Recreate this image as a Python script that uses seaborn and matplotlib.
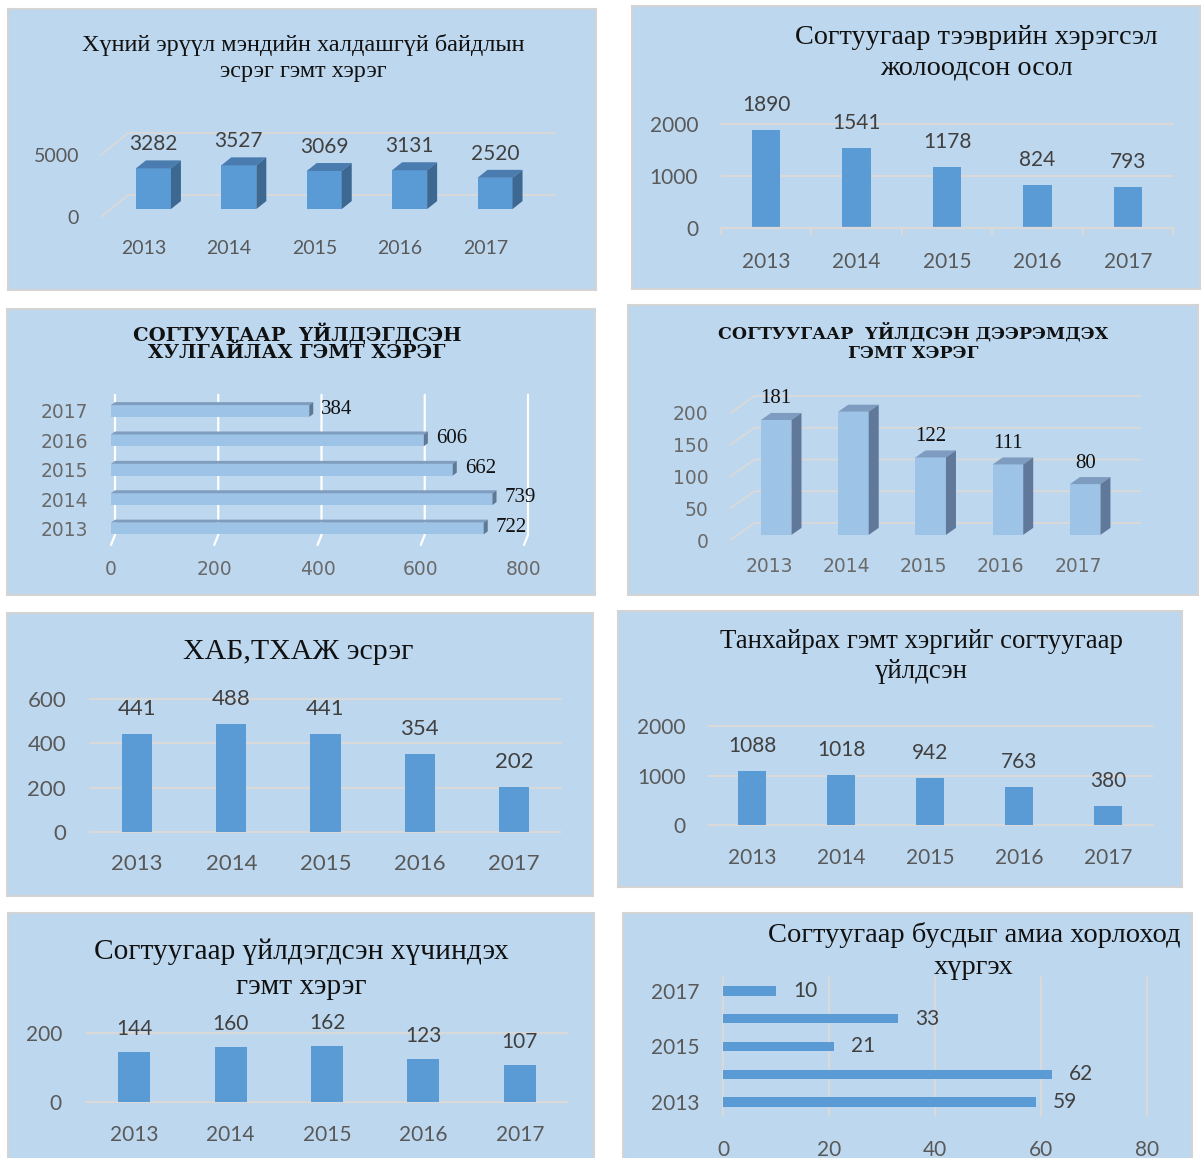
import numpy as np
import matplotlib
matplotlib.use("Agg")
import matplotlib.pyplot as plt
from matplotlib.patches import Polygon
import seaborn as sns

# canvas in pixels
W, H = 1201, 1158

YEARS = ["2013", "2014", "2015", "2016", "2017"]

# values per chart, in YEARS order
health_vals = [3282, 3527, 3069, 3131, 2520]
traffic_vals = [1890, 1541, 1178, 824, 793]
theft_vals = [722, 739, 662, 606, 384]
robbery_vals = [181, 194, 122, 111, 80]
hab_vals = [441, 488, 441, 354, 202]
hooligan_vals = [1088, 1018, 942, 763, 380]
rape_vals = [144, 160, 162, 123, 107]
suicide_vals = [59, 62, 21, 33, 10]

health_ticks = [0, 5000]
traffic_ticks = [0, 1000, 2000]
theft_ticks = [0, 200, 400, 600, 800]
robbery_ticks = [0, 50, 100, 150, 200]
hab_ticks = [0, 200, 400, 600]
hooligan_ticks = [0, 1000, 2000]
rape_ticks = [0, 200]
suicide_ticks = [0, 20, 40, 60, 80]
suicide_ylabels = ["2017", "", "2015", "", "2013"]

health_title = ["Хүний эрүүл мэндийн халдашгүй байдлын", "эсрэг гэмт хэрэг"]
traffic_title = ["Согтуугаар тээврийн хэрэгсэл", "жолоодсон осол"]
theft_title = ["СОГТУУГААР  ҮЙЛДЭГДСЭН", "ХУЛГАЙЛАХ ГЭМТ ХЭРЭГ"]
robbery_title = ["СОГТУУГААР  ҮЙЛДСЭН ДЭЭРЭМДЭХ", "ГЭМТ ХЭРЭГ"]
hab_title = ["ХАБ,ТХАЖ эсрэг"]
hooligan_title = ["Танхайрах гэмт хэргийг согтуугаар", "үйлдсэн"]
rape_title = ["Согтуугаар үйлдэгдсэн хүчиндэх", "гэмт хэрэг"]
suicide_title = ["Согтуугаар бусдыг амиа хорлоход", "хүргэх"]

PANEL = "#BDD7EE"
EDGE = "#D4D4D4"
GRID = "#D9D9D9"
BLUE = "#5B9BD5"
LIGHT = "#9DC3E6"
TICK_C = "#595959"
LAB_C = "#404040"
SERIF = ["Liberation Serif", "DejaVu Serif"]
WIDE_SERIF = ["DejaVu Serif"]
SANS = ["Lato", "DejaVu Sans"]
WIDE = ["DejaVu Sans"]

sns.set_theme(style="white")
plt.rcParams["font.family"] = SANS

fig = plt.figure(figsize=(W / 100, H / 100), dpi=100)
fig.patch.set_facecolor("white")


def px(v):
    # pixels -> points
    return v * 72 / 100


def rect(l, t, r, b):
    return [l / W, 1 - b / H, (r - l) / W, (b - t) / H]


def card(l, t, r, b):
    bg = fig.add_axes(rect(l, t, r, b))
    bg.set_facecolor(PANEL)
    bg.set_xticks([])
    bg.set_yticks([])
    for s in bg.spines.values():
        s.set_color(EDGE)
        s.set_linewidth(1.5)
    bg.set_zorder(0)


def inner(l, t, r, b):
    ax = fig.add_axes(rect(l, t, r, b))
    ax.patch.set_visible(False)
    for s in ax.spines.values():
        s.set_visible(False)
    ax.set_zorder(1)
    return ax


def title(x, ys, lines, size, bold=False, family=SERIF):
    for y, line in zip(ys, lines):
        fig.text(x / W, 1 - y / H, line, ha="center", va="center", fontsize=size,
                 family=family, weight="bold" if bold else "normal", color="#111111")


def style_ticks(ax, family, size, ypad, xpad, color=TICK_C):
    # pads are given in pixels
    ax.set_xlabel("")
    ax.set_ylabel("")
    ax.tick_params(axis="both", which="major", length=0, labelcolor=color)
    ax.tick_params(axis="y", pad=px(ypad))
    ax.tick_params(axis="x", pad=px(xpad))
    for t in ax.get_xticklabels() + ax.get_yticklabels():
        t.set_fontfamily(family)
        t.set_fontsize(size)


def columns(ax, vals, ticks, width, size, ypad, xpad, lab_off, lab_size):
    sns.barplot(x=YEARS, y=vals, color=BLUE, saturation=1, width=width,
                errorbar=None, linewidth=0, edgecolor="none", ax=ax)
    ax.set_xlim(-0.5, 4.5)
    ax.set_ylim(ticks[0], ticks[-1])
    ax.set_yticks(ticks)
    ax.yaxis.grid(True, color=GRID, lw=1.6)
    ax.xaxis.grid(False)
    ax.set_axisbelow(True)
    for gl in ax.get_ygridlines():
        gl.set_clip_on(False)
    for p in ax.patches:
        ax.annotate(f"{int(round(p.get_height()))}",
                    (p.get_x() + p.get_width() / 2, p.get_height()),
                    xytext=(0, px(lab_off)), textcoords="offset points",
                    ha="center", va="center", fontsize=lab_size, color=LAB_C,
                    family=SANS)
    style_ticks(ax, SANS, size, ypad, xpad)


def columns3d(ax, vals, ticks, width, Dx, Dy, z0, bdx, bdy, cols, size, ypad,
              xpad, lab_off, lab_size, lab_family, lab_color, tick_family):
    front, top_c, side_c = cols
    sns.barplot(x=YEARS, y=vals, color=front, saturation=1, width=width,
                errorbar=None, linewidth=0, edgecolor="none", ax=ax)
    ax.set_xlim(-0.5, 4.5)
    ax.set_ylim(ticks[0], ticks[-1])
    ax.set_yticks(ticks)
    ax.grid(False)
    # back-wall gridlines with the slanted side wall
    for t in ticks:
        ax.plot([-0.5, -0.5 + Dx, 4.5 + Dx], [t, t + Dy, t + Dy], color=GRID,
                lw=1.4, clip_on=False, zorder=0.5)
    for p in ax.patches:
        p.set_x(p.get_x() + z0 * Dx)
        p.set_y(z0 * Dy)
        p.set_zorder(2)
        p.set_clip_on(False)
        x0, y0 = p.get_x(), p.get_y()
        x1, y1 = x0 + p.get_width(), y0 + p.get_height()
        ax.add_patch(Polygon([(x0, y1), (x0 + bdx, y1 + bdy), (x1 + bdx, y1 + bdy), (x1, y1)],
                             closed=True, facecolor=top_c, edgecolor="none",
                             zorder=2, clip_on=False))
        ax.add_patch(Polygon([(x1, y0), (x1 + bdx, y0 + bdy), (x1 + bdx, y1 + bdy), (x1, y1)],
                             closed=True, facecolor=side_c, edgecolor="none",
                             zorder=2, clip_on=False))
        ax.annotate(f"{int(round(p.get_height()))}", ((x0 + x1) / 2, y1),
                    xytext=(0, px(lab_off)), textcoords="offset points",
                    ha="center", va="center", fontsize=lab_size, color=lab_color,
                    family=lab_family)
    style_ticks(ax, tick_family, size, ypad, xpad)


# ---------------- panel 1: 3D columns ----------------
card(8, 9, 596, 290)
ax1 = inner(101, 155, 528, 217)
px_y1 = 5000 / 62
columns3d(ax1, health_vals, health_ticks, 0.41, 27 / 85.4, 22 * px_y1, 0.36,
          10 / 85.4, 8 * px_y1, (BLUE, "#4A7CB0", "#3C6891"), 14, 22, 22.5,
          24, 15, SANS, LAB_C, SANS)
title(303, [45, 72], health_title, 17.5)

# ---------------- panel 2: columns with axis line ----------------
card(632, 6, 1200, 289)
ax2 = inner(720.75, 124, 1173.25, 228)
columns(ax2, traffic_vals, traffic_ticks, 0.31, 15, 22.7, 23.5, 25, 15)
ax2.spines["bottom"].set_visible(True)
ax2.spines["bottom"].set_color(GRID)
ax2.spines["bottom"].set_linewidth(1.6)
ax2.set_xticks(np.arange(-0.5, 5, 1), minor=True)
ax2.tick_params(axis="x", which="minor", length=5, width=1.6, color=GRID,
                direction="out", bottom=True)
title(976, [37, 68], traffic_title, 20.3)

# ---------------- panel 3: bevelled horizontal bars ----------------
card(7, 309, 595, 595)
ax3 = inner(111, 396.3, 524, 543.2)
sns.barplot(x=theft_vals, y=YEARS, order=YEARS[::-1], orient="h", color=LIGHT,
            saturation=1, width=0.40, errorbar=None, linewidth=0,
            edgecolor="none", ax=ax3)
ax3.set_xlim(theft_ticks[0], theft_ticks[-1])
ax3.set_ylim(4.5, -0.5)
ax3.set_xticks(theft_ticks)
ax3.grid(False)
cap_dx = 4 / 0.516
strip = 3.0 / 29.4
for t in theft_ticks:
    ax3.plot([t + cap_dx, t + cap_dx, t], [-0.55, 4.22, 4.56], color="white",
             lw=1.6, clip_on=False, zorder=0.5)
for p in ax3.patches:
    x0, x1 = p.get_x(), p.get_x() + p.get_width()
    yt, yb = p.get_y(), p.get_y() + p.get_height()
    p.set_zorder(2)
    ax3.add_patch(Polygon([(x0, yt), (x0 + cap_dx, yt - strip), (x1 + cap_dx, yt - strip), (x1, yt)],
                          closed=True, facecolor="#7F9DBF", edgecolor="none", zorder=2))
    ax3.add_patch(Polygon([(x1, yt), (x1 + cap_dx, yt - strip), (x1 + cap_dx, yb - strip), (x1, yb)],
                          closed=True, facecolor="#5F7896", edgecolor="none", zorder=2))
    ax3.annotate(f"{int(round(p.get_width()))}", (x1 + cap_dx, (yt + yb) / 2 - strip / 2),
                 xytext=(px(8), 0), textcoords="offset points", ha="left",
                 va="center", fontsize=15, color="#111111", family=SERIF)
style_ticks(ax3, WIDE, 13.5, 23, 16.5, color="#6A6A6A")
title(297, [334, 353], theft_title, 14, bold=True, family=WIDE_SERIF)

# ---------------- panel 4: 3D columns, light ----------------
card(628, 305, 1198, 595)
ax4 = inner(730.4, 413, 1116.6, 540)
px_y4 = 200 / 127
columns3d(ax4, robbery_vals, robbery_ticks, 0.395, 24 / 77.2, 17 * px_y4, 0.3,
          10 / 77.2, 7 * px_y4, (LIGHT, "#7E9CC0", "#60799A"), 13.5, 22, 17.5,
          21, 15, SERIF, "#111111", WIDE)
for t in ax4.get_xticklabels() + ax4.get_yticklabels():
    t.set_color("#6A6A6A")
title(913, [333, 354], robbery_title, 12.5, bold=True, family=WIDE_SERIF)

# ---------------- panel 5 ----------------
card(7, 613, 593, 896)
ax5 = inner(90, 699, 561, 832)
columns(ax5, hab_vals, hab_ticks, 0.32, 16, 24, 22.5, 25, 16)
title(298, [652], hab_title, 21.5)

# ---------------- panel 6 ----------------
card(618, 611, 1182, 887)
ax6 = inner(707.5, 726, 1152.5, 825)
columns(ax6, hooligan_vals, hooligan_ticks, 0.31, 15, 22, 23.5, 25, 15)
title(921, [642, 672], hooligan_title, 19.4)

# ---------------- panel 7 ----------------
card(8, 913, 594, 1175)
ax7 = inner(86, 1032.7, 568, 1102.3)
columns(ax7, rape_vals, rape_ticks, 0.33, 15, 24, 23, 23, 15)
title(301, [952, 987], rape_title, 21.2)

# ---------------- panel 8: flat horizontal bars ----------------
card(623, 913, 1192, 1175)
ax8 = inner(723, 977, 1147, 1116)
sns.barplot(x=suicide_vals, y=YEARS, order=YEARS[::-1], orient="h", color=BLUE,
            saturation=1, width=0.34, errorbar=None, linewidth=0,
            edgecolor="none", ax=ax8)
ax8.set_xlim(suicide_ticks[0], suicide_ticks[-1])
ax8.set_ylim(4.5, -0.5)
ax8.set_xticks(suicide_ticks)
ax8.set_yticks(range(5))
ax8.set_yticklabels(suicide_ylabels)
ax8.grid(False)
ax8.xaxis.grid(True, color=GRID, lw=1.6)
ax8.set_axisbelow(True)
for gl in ax8.get_xgridlines():
    gl.set_clip_on(False)
for p in ax8.patches:
    ax8.annotate(f"{int(round(p.get_width()))}",
                 (p.get_x() + p.get_width(), p.get_y() + p.get_height() / 2),
                 xytext=(px(17), 0), textcoords="offset points", ha="left",
                 va="center", fontsize=15, color=LAB_C, family=SANS)
style_ticks(ax8, SANS, 15, 24, 23.5)
title(974, [935, 967], suicide_title, 20.5)

fig.savefig("out.png", dpi=100, facecolor="white")
